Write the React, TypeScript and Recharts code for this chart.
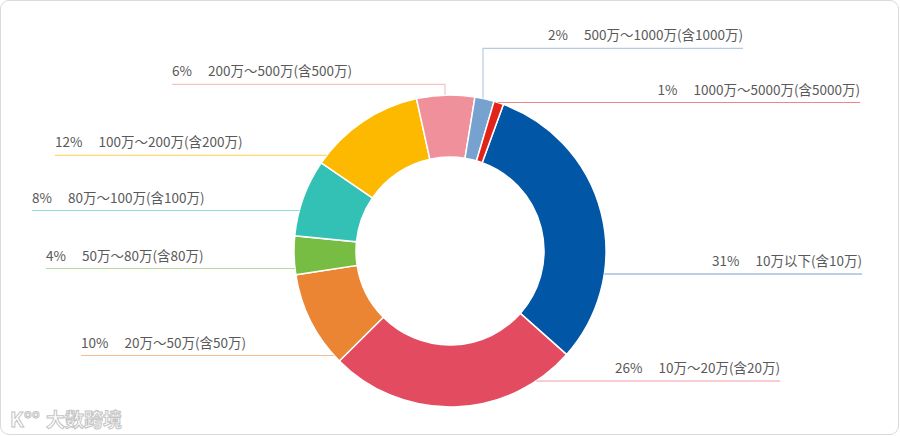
import React from 'react';
import { PieChart, Pie, Cell } from 'recharts';

// ---- data ----
const categories = [
  '10万以下(含10万)',
  '10万～20万(含20万)',
  '20万～50万(含50万)',
  '50万～80万(含80万)',
  '80万～100万(含100万)',
  '100万～200万(含200万)',
  '200万～500万(含500万)',
  '500万～1000万(含1000万)',
  '1000万～5000万(含5000万)',
];
const shares = [31, 26, 10, 4, 8, 12, 6, 2, 1];
const colors = [
  '#0256A6',
  '#E34B60',
  '#EC8533',
  '#77BD43',
  '#32C1B4',
  '#FDB900',
  '#F0909A',
  '#77A1CE',
  '#E2231A',
];

// ---- label layout (relative to pie centre) ----
type LabelLayout = { side: 'left' | 'right'; dy: number; end: number; elbow?: number };
const labelLayout: LabelLayout[] = [
  { side: 'right', dy: 23, end: 412 },
  { side: 'right', dy: 130, end: 330 },
  { side: 'left', dy: 104.5, end: -369 },
  { side: 'left', dy: 17.5, end: -404 },
  { side: 'left', dy: -40.5, end: -418 },
  { side: 'left', dy: -95.7, end: -395 },
  { side: 'left', dy: -166.7, end: -278, elbow: -5 },
  { side: 'right', dy: -202.7, end: 293, elbow: 33 },
  { side: 'right', dy: -148.5, end: 410 },
];

const data = categories.map((name, i) => ({ name, value: shares[i] }));

const FONT = '"Noto Sans CJK SC", "Noto Sans", sans-serif';

const renderLabel = (props: any) => {
  const { cx, cy, outerRadius, index } = props;
  const L = labelLayout[index];
  if (!L) return null;
  const R = outerRadius;
  const y = cy + L.dy;
  const endX = cx + L.end;
  let d: string;
  if (L.elbow !== undefined) {
    const ex = cx + L.elbow;
    const ey = cy - Math.sqrt(R * R - L.elbow * L.elbow);
    d = `M${ex},${ey} L${ex},${y} L${endX},${y}`;
  } else {
    const sx = cx + (L.side === 'right' ? 1 : -1) * Math.sqrt(Math.max(0, R * R - L.dy * L.dy));
    d = `M${sx},${y} L${endX},${y}`;
  }
  const color = colors[index];
  return (
    <g key={`lbl-${index}`}>
      <path d={d} stroke={color} strokeOpacity={0.55} strokeWidth={1.2} fill="none" />
      <text
        x={endX}
        y={y - 8}
        textAnchor={L.side === 'right' ? 'end' : 'start'}
        fill="#595959"
        fontSize={13.5}
        fontFamily={FONT}
      >
        <tspan>{`${shares[index]}%`}</tspan>
        <tspan dx={16}>{categories[index]}</tspan>
      </text>
    </g>
  );
};

export default function App() {
  return (
    <div style={{ position: 'absolute', left: 0, top: 0, width: 900, height: 436, background: '#fff' }}>
      <div
        style={{
          position: 'absolute',
          left: 0,
          top: 0,
          width: 899,
          height: 435,
          boxSizing: 'border-box',
          border: '1px solid #dadada',
          borderRadius: 9,
        }}
      />
      <PieChart width={900} height={436} margin={{ top: 0, right: 0, bottom: 0, left: 0 }}>
        <Pie
          data={data}
          dataKey="value"
          nameKey="name"
          cx={450}
          cy={251}
          innerRadius={94}
          outerRadius={156}
          startAngle={70}
          endAngle={-290}
          stroke="#ffffff"
          strokeWidth={1.5}
          label={renderLabel}
          labelLine={false}
          isAnimationActive={false}
        >
          {data.map((d, i) => (
            <Cell key={d.name} fill={colors[i]} />
          ))}
        </Pie>
      </PieChart>
      <div
        style={{
          position: 'absolute',
          left: 10,
          top: 404,
          fontFamily: FONT,
          fontWeight: 700,
          fontSize: 19,
          color: '#ffffff',
          WebkitTextStroke: '1px #c4c4c4',
          letterSpacing: 0,
          whiteSpace: 'nowrap',
        }}
      >
        <span style={{ fontSize: 20, marginRight: 6 }}>K°°</span>大数跨境
      </div>
    </div>
  );
}
